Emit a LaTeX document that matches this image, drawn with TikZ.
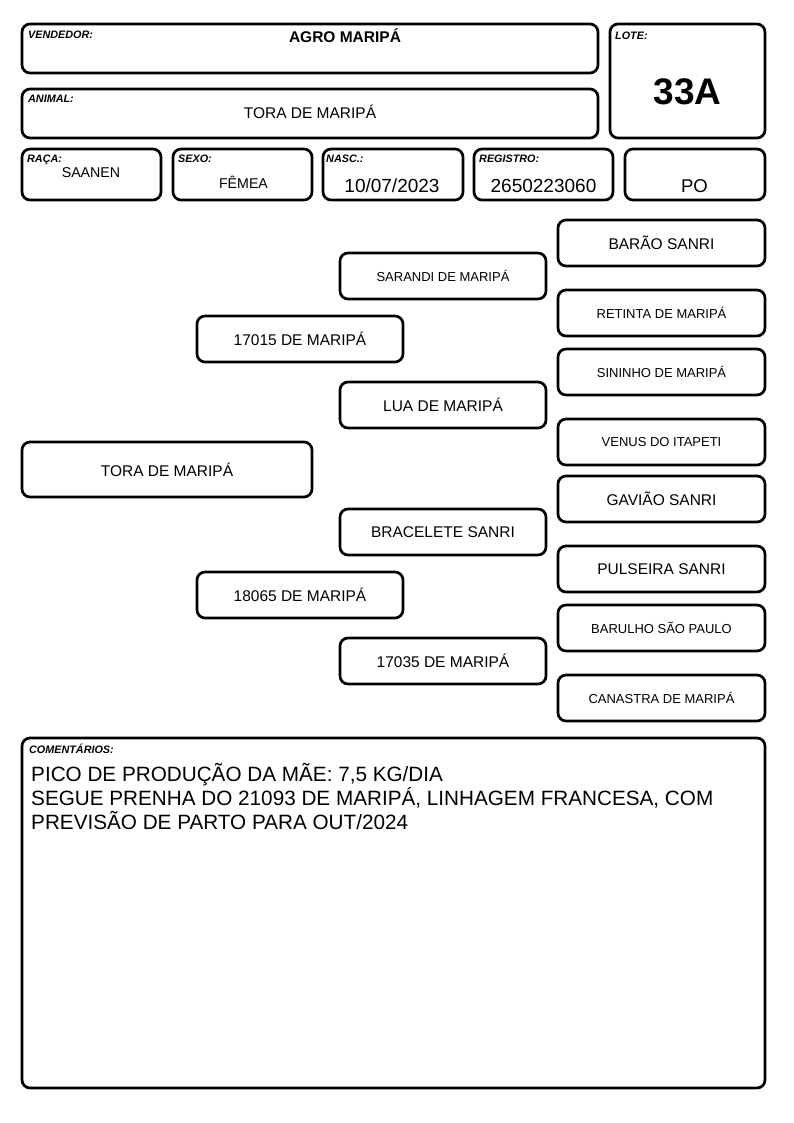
\documentclass[tikz,border=0pt]{standalone}
\usepackage{fontspec}
\setmainfont{Liberation Sans}
\usetikzlibrary{positioning}
\newcommand{\rotfont}{\fontsize{10.8}{12}\selectfont\bfseries\itshape}
\newcommand{\nomefont}{\fontsize{15.5}{18}\selectfont}
\newcommand{\menorfont}{\fontsize{13}{15}\selectfont}
\newcommand{\comfont}{\fontsize{20.7}{24}\selectfont}

\begin{document}
\begin{tikzpicture}[x=1pt, y=-1pt,
  campo/.style={draw, line width=2.7pt, rounded corners=8pt, inner sep=0pt, outer sep=0pt},
  rotulo/.style={anchor=base west, inner sep=0pt, font=\rotfont},
  valor/.style={anchor=base, inner sep=0pt},
  ped/.style={campo, minimum width=206pt, minimum height=46pt, font=\nomefont},
  pedp/.style={ped, font=\menorfont}]
  \useasboundingbox (0,0) rectangle (794,1123);

  % cabecalho
  \node[campo, minimum width=576pt, minimum height=49pt] (vendedor) at (310,48.5) {};
  \node[rotulo] (vendedorR) at ([xshift=6pt, yshift=-15pt]vendedor.north west) {VENDEDOR:};
  \node[valor, font=\nomefont\bfseries] (vendedorV) at (345,43) {AGRO MARIPÁ};

  \node[campo, minimum width=576pt, minimum height=49pt] (animal) at (310,113.5) {};
  \node[rotulo] (animalR) at ([xshift=6pt, yshift=-14pt]animal.north west) {ANIMAL:};
  \node[valor, font=\nomefont] (animalV) at (310,119) {TORA DE MARIPÁ};

  \node[campo, minimum width=155pt, minimum height=114pt] (lote) at (687.5,81) {};
  \node[rotulo] (loteR) at ([xshift=5pt, yshift=-16pt]lote.north west) {LOTE:};
  \node[valor, font=\fontsize{37}{40}\selectfont\bfseries] (loteV) at (687.5,105) {33A};

  \node[campo, minimum width=139pt, minimum height=51pt] (raca) at (91.5,174.5) {};
  \node[rotulo] (racaR) at ([xshift=5pt, yshift=-14pt]raca.north west) {RAÇA:};
  \node[valor, font=\fontsize{14.2}{16}\selectfont] (racaV) at (91,178) {SAANEN};

  \node[campo, minimum width=139pt, minimum height=51pt] (sexo) at (242.5,174.5) {};
  \node[rotulo] (sexoR) at ([xshift=5pt, yshift=-14pt]sexo.north west) {SEXO:};
  \node[valor, font=\fontsize{14.2}{16}\selectfont] (sexoV) at (243.5,189) {FÊMEA};

  \node[campo, minimum width=140pt, minimum height=51pt] (nasc) at (393,174.5) {};
  \node[rotulo] (nascR) at ([xshift=3pt, yshift=-14pt]nasc.north west) {NASC.:};
  \node[valor, font=\fontsize{19}{21}\selectfont] (nascV) at (392,193) {10/07/2023};

  \node[campo, minimum width=139pt, minimum height=51pt] (registro) at (543.5,174.5) {};
  \node[rotulo] (registroR) at ([xshift=5pt, yshift=-14pt]registro.north west) {REGISTRO:};
  \node[valor, font=\fontsize{19}{21}\selectfont] (registroV) at (543.5,193) {2650223060};

  \node[campo, minimum width=140pt, minimum height=51pt] (categoria) at (695,174.5) {};
  \node[valor, font=\fontsize{18.5}{21}\selectfont] (categoriaV) at (694.5,193) {PO};

  % genealogia
  \node[ped, minimum width=290pt, minimum height=55pt] (tora) at (167,469.5) {TORA DE MARIPÁ};

  \node[ped] (pai) at (300,339) {17015 DE MARIPÁ};
  \node[ped] (mae) at (300,595) {18065 DE MARIPÁ};

  \node[pedp] (avoPP) at (443,276) {SARANDI DE MARIPÁ};
  \node[ped] (avoPM) at (443,405) {LUA DE MARIPÁ};
  \node[ped] (avoMP) at (443,532) {BRACELETE SANRI};
  \node[ped] (avoMM) at (443,661) {17035 DE MARIPÁ};

  \node[ped, minimum width=207pt] (bisa1) at (661.5,243) {BARÃO SANRI};
  \node[pedp, minimum width=207pt] (bisa2) at (661.5,313) {RETINTA DE MARIPÁ};
  \node[pedp, minimum width=207pt] (bisa3) at (661.5,372) {SININHO DE MARIPÁ};
  \node[pedp, minimum width=207pt] (bisa4) at (661.5,442) {VENUS DO ITAPETI};
  \node[ped, minimum width=207pt] (bisa5) at (661.5,499) {GAVIÃO SANRI};
  \node[ped, minimum width=207pt] (bisa6) at (661.5,569) {PULSEIRA SANRI};
  \node[pedp, minimum width=207pt] (bisa7) at (661.5,628) {BARULHO SÃO PAULO};
  \node[pedp, minimum width=207pt] (bisa8) at (661.5,698) {CANASTRA DE MARIPÁ};

  % comentarios
  \node[campo, minimum width=743pt, minimum height=350pt] (coment) at (393.5,913) {};
  \node[rotulo] (comentR) at ([xshift=7pt, yshift=-15pt]coment.north west) {COMENTÁRIOS:};
  \node[anchor=base west, align=left, inner sep=0pt, font=\comfont] (comentV) at (31,829)
    {PICO DE PRODUÇÃO DA MÃE: 7,5 KG/DIA\\
     SEGUE PRENHA DO 21093 DE MARIPÁ, LINHAGEM FRANCESA, COM\\
     PREVISÃO DE PARTO PARA OUT/2024};
\end{tikzpicture}
\end{document}
